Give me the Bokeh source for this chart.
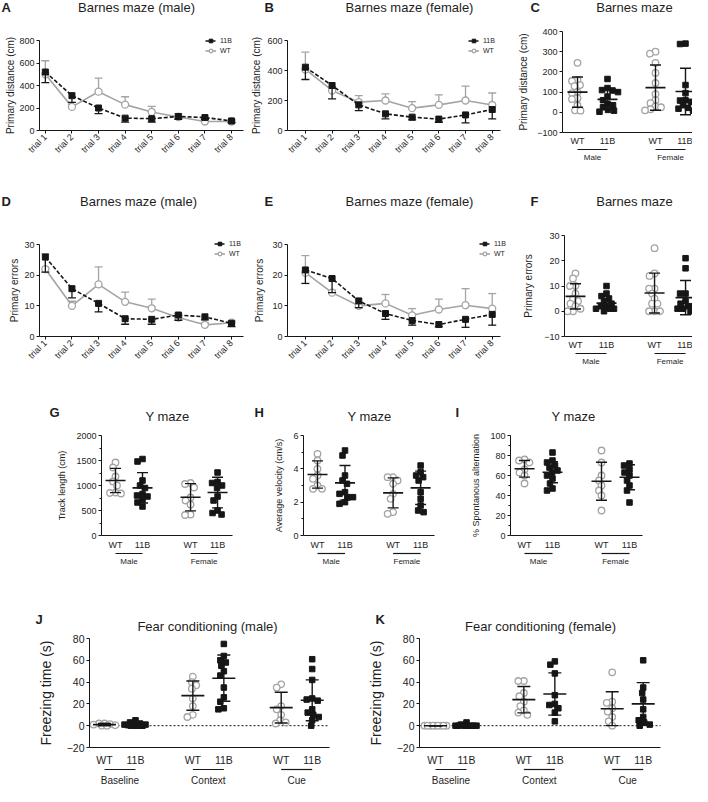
import numpy as np
from bokeh.plotting import figure
from bokeh.models import (Range1d, FixedTicker, Label, Legend, LegendItem,
                          BoxAnnotation, Spacer)
from bokeh.layouts import row, column
from bokeh.embed import file_html
from bokeh.resources import INLINE

FONT = "Liberation Sans"
INK = "#161616"
GRAY = "#a4a4a4"
TXT = "#1e1e1e"

# ---------------------------------------------------------------- data
trials = ["trial 1", "trial 2", "trial 3", "trial 4", "trial 5", "trial 6", "trial 7", "trial 8"]
genotypes = ["WT", "11B"]
sexes = ["Male", "Female"]
phases = ["Baseline", "Context", "Cue"]

# A: Barnes maze (male) primary distance, mean and SEM
a_11b_mean = [520, 310, 200, 110, 105, 125, 115, 85]
a_11b_sem = [95, 60, 50, 35, 30, 25, 15, 15]
a_wt_mean = [500, 210, 345, 230, 165, 120, 80, 80]
a_wt_sem = [120, 20, 120, 70, 50, 30, 15, 15]

# B: Barnes maze (female) primary distance
b_11b_mean = [422, 300, 171, 111, 89, 76, 104, 140]
b_11b_sem = [82, 89, 38, 33, 18, 21, 53, 63]
b_wt_mean = [407, 267, 189, 200, 149, 171, 200, 170]
b_wt_sem = [115, 25, 44, 44, 44, 67, 96, 80]

# C: Barnes maze primary distance per animal
c_wt_male = [245, 160, 155, 135, 130, 100, 95, 70, 65, 35, 10, 8]
c_11b_male = [165, 120, 110, 108, 100, 78, 60, 42, 35, 25, 12, 8, 3]
c_wt_female = [300, 290, 245, 195, 145, 90, 60, 45, 30, 25, 15, 10]
c_11b_female = [340, 338, 135, 95, 60, 58, 52, 35, 22, 18, 8]
c_mean = [100, 64, 122, 103]
c_sd = [75, 48, 112, 115]

# D: Barnes maze (male) primary errors
d_11b_mean = [25.9, 15.6, 10.8, 5.8, 5.6, 7.0, 6.4, 4.3]
d_11b_sem = [4.9, 3.0, 2.8, 1.8, 1.6, 1.7, 1.0, 1.1]
d_wt_mean = [22.0, 10.0, 17.0, 11.3, 9.2, 6.2, 3.8, 4.5]
d_wt_sem = [5.0, 1.5, 5.7, 3.2, 3.0, 1.3, 0.7, 0.5]

# E: Barnes maze (female) primary errors
e_11b_mean = [21.7, 18.9, 11.6, 7.5, 5.2, 3.9, 5.6, 7.2]
e_11b_sem = [4.4, 4.6, 2.2, 1.9, 1.5, 0.7, 2.6, 3.5]
e_wt_mean = [20.8, 14.3, 10.0, 10.8, 6.9, 8.8, 10.2, 9.1]
e_wt_sem = [5.6, 0.8, 0.5, 2.9, 2.2, 3.4, 5.4, 4.9]

# F: Barnes maze primary errors per animal
f_wt_male = [15, 13, 10, 10, 7, 5, 4, 3, 2, 1, 0, 0]
f_11b_male = [10, 7, 6, 5, 4, 3, 2, 2, 1, 1, 1, 0]
f_wt_female = [25, 15, 14, 9, 9, 7, 5, 3, 3, 0, 0, 0]
f_11b_female = [21, 17, 7, 7, 4, 3, 2, 2, 1, 1, 0]
f_mean = [5.9, 3.2, 7.2, 5.4]
f_sd = [5.0, 2.8, 7.9, 6.8]

# G: Y maze track length
g_wt_male = [1460, 1360, 1180, 1080, 1000, 860, 850, 840]
g_11b_male = [1530, 1480, 1100, 1000, 950, 830, 800, 780, 720, 660, 580]
g_wt_female = [1050, 1030, 960, 760, 700, 620, 420, 410]
g_11b_female = [1260, 1070, 1050, 1000, 950, 780, 700, 500, 450, 420]
g_mean = [1100, 953, 765, 859]
g_sd = [242, 304, 272, 306]

# H: Y maze average velocity
h_wt_male = [4.9, 4.5, 4.0, 3.6, 3.4, 3.0, 2.8, 2.8]
h_11b_male = [5.1, 4.8, 3.6, 3.3, 3.1, 2.6, 2.5, 2.3, 2.3, 2.0, 1.9]
h_wt_female = [3.5, 3.5, 3.3, 3.1, 2.5, 2.2, 1.4, 1.3]
h_11b_female = [4.2, 3.8, 3.6, 3.5, 3.3, 2.6, 2.2, 1.8, 1.5, 1.4]
h_mean = [3.66, 3.16, 2.56, 2.86]
h_sd = [0.82, 1.04, 0.90, 1.00]

# I: Y maze spontaneous alternation
i_wt_male = [76, 75, 73, 66, 63, 60, 52]
i_11b_male = [83, 75, 73, 70, 68, 65, 63, 60, 57, 52, 47, 45]
i_wt_female = [85, 73, 60, 55, 50, 45, 40, 25]
i_11b_female = [72, 70, 66, 63, 60, 55, 50, 45, 33]
i_mean = [66.7, 63.3, 54.3, 58.3]
i_sd = [8.3, 10.5, 19.0, 12.5]

# J: Fear conditioning (male) freezing time
j_base_wt = [2, 2, 1.5, 1, 0.5, 0, 0]
j_base_11b = [5, 3, 2, 1, 1, 1, 0.5, 0, 0, 0, 0, 0]
j_ctx_wt = [45, 40, 37, 34, 25, 18, 10, 8]
j_ctx_11b = [75, 64, 60, 58, 55, 50, 46, 35, 26, 22, 16, 15]
j_cue_wt = [38, 35, 18, 15, 10, 5, 3, 2]
j_cue_11b = [61, 52, 42, 25, 24, 23, 15, 12, 10, 8, 5, 0]
j_mean = [1.0, 1.0, 27.6, 43.6, 16.6, 23.3]
j_sd = [1.0, 1.5, 13.4, 21.2, 14.1, 18.7]

# K: Fear conditioning (female) freezing time
k_base_wt = [0, 0, 0, 0, 0, 0, 0, 0, 0]
k_base_11b = [3, 1, 0, 0, 0, 0, 0, 0, 0]
k_ctx_wt = [41, 41, 30, 27, 22, 18, 14, 12, 10]
k_ctx_11b = [59, 56, 48, 28, 20, 19, 16, 12, 4]
k_cue_wt = [49, 22, 21, 16, 13, 8, 4, 0]
k_cue_11b = [60, 35, 30, 24, 15, 8, 5, 3, 1, 0]
k_mean = [0.0, 0.4, 23.9, 29.1, 15.6, 20.0]
k_sd = [0.0, 1.0, 12.1, 19.4, 15.5, 19.5]


# ---------------------------------------------------------------- helpers
def make_fig(box, frame, xr, yr):
    """Figure whose plotting frame fills the whole canvas; the axes sit at
    fixed data locations so that titles and labels around them stay visible."""
    x0, y0, w, h = box
    fl, ft, fr, fb = frame
    ppx = (fr - fl) / (xr[1] - xr[0])
    ppy = (fb - ft) / (yr[1] - yr[0])
    full_x = (xr[0] - (fl - x0) / ppx, xr[1] + (x0 + w - fr) / ppx)
    full_y = (yr[0] - (y0 + h - fb) / ppy, yr[1] + (ft - y0) / ppy)
    p = figure(width=w, height=h, x_range=Range1d(*full_x), y_range=Range1d(*full_y),
               output_backend="svg", toolbar_location=None,
               min_border=0, min_border_left=0, min_border_right=0,
               min_border_top=0, min_border_bottom=0)
    p.outline_line_color = None
    p.grid.visible = False
    p.background_fill_color = "white"
    p.border_fill_color = "white"
    p.xaxis[0].fixed_location = yr[0]
    p.xaxis[0].bounds = tuple(xr)
    p.yaxis[0].fixed_location = xr[0]
    p.yaxis[0].bounds = tuple(yr)
    return p


def style_axis(ax, tick_size, label="", label_size="10px", standoff=3, tick_out=3):
    ax.axis_line_color = INK
    ax.axis_line_width = 1
    ax.major_tick_line_color = INK
    ax.major_tick_out = tick_out
    ax.major_tick_in = 0
    ax.minor_tick_line_color = None
    ax.major_label_text_font = FONT
    ax.major_label_text_font_size = tick_size
    ax.major_label_text_color = TXT
    ax.major_label_standoff = 2
    ax.axis_label = label
    ax.axis_label_text_font = FONT
    ax.axis_label_text_font_size = label_size
    ax.axis_label_text_font_style = "normal"
    ax.axis_label_text_color = TXT
    ax.axis_label_standoff = standoff


def y_axis(p, lo, hi, step, tick_size, label, label_size, standoff, minor=None):
    ax = p.yaxis[0]
    ax.ticker = FixedTicker(ticks=list(range(lo, hi + 1, step)), minor_ticks=minor or [])
    style_axis(ax, tick_size, label, label_size, standoff)
    if minor:
        ax.minor_tick_line_color = INK
        ax.minor_tick_out = 2
        ax.minor_tick_in = 0


def put_text(p, box, px, py, text, size, bold=False, align="center"):
    x0, y0, w, h = box
    p.add_layout(Label(x=px - x0, y=y0 + h - py, x_units="screen", y_units="screen",
                       text=text, text_font=FONT, text_font_size=size,
                       text_font_style="bold" if bold else "normal",
                       text_align=align, text_baseline="middle", text_color=TXT))


def group_marks(p, box, spans, names, y_line, y_text, size):
    x0, y0, w, h = box
    for (a, b), name in zip(spans, names):
        p.add_layout(BoxAnnotation(left=a, right=b,
                                   top=y0 + h - y_line + 0.6, bottom=y0 + h - y_line - 0.6,
                                   top_units="screen", bottom_units="screen",
                                   fill_color=INK, fill_alpha=1, line_color=None))
        p.add_layout(Label(x=(a + b) / 2, y=y0 + h - y_text, x_units="data", y_units="screen",
                           text=name, text_font=FONT, text_font_size=size,
                           text_align="center", text_baseline="middle", text_color=TXT))


def add_legend(p, box, items, left, top):
    x0, y0, w, h = box
    lh = 9
    height = len(items) * lh + (len(items) - 1)
    lg = Legend(items=[LegendItem(label=l, renderers=r) for l, r in items],
                location=(left - x0, y0 + h - (top + height)),
                label_text_font=FONT, label_text_font_size="7px", label_text_color=TXT,
                label_height=lh, glyph_height=lh, glyph_width=11, label_standoff=4,
                spacing=1, padding=0, margin=0, border_line_color=None,
                background_fill_alpha=0)
    p.add_layout(lg)


def line_panel(box, frame, xr, yr, ystep, ylabel, m_b, e_b, m_w, e_w, title, letter,
               title_xy, letter_xy, legend_xy, label_standoff):
    p = make_fig(box, frame, xr, yr)
    xs = list(range(1, len(trials) + 1))
    ax = p.xaxis[0]
    ax.ticker = FixedTicker(ticks=xs)
    ax.major_label_overrides = {x: t for x, t in zip(xs, trials)}
    style_axis(ax, "9px")
    ax.major_label_orientation = np.pi / 4
    y_axis(p, yr[0], yr[1], ystep, "9px", ylabel, "10px", label_standoff)

    up_w = [m + e for m, e in zip(m_w, e_w)]
    lw = p.line(xs, m_w, line_color=GRAY, line_width=1.6)
    p.segment(xs, m_w, xs, up_w, line_color=GRAY, line_width=1.3)
    p.scatter(xs, up_w, marker="dash", size=8, line_color=GRAY, line_width=1.3)
    cw = p.scatter(xs, m_w, marker="circle", size=7, fill_color="white",
                   line_color=GRAY, line_width=1.3)

    lo_b = [m - e for m, e in zip(m_b, e_b)]
    lb = p.line(xs, m_b, line_color=INK, line_width=1.6, line_dash="4 2")
    p.segment(xs, lo_b, xs, m_b, line_color=INK, line_width=1.3)
    p.scatter(xs, lo_b, marker="dash", size=8, line_color=INK, line_width=1.3)
    sb = p.scatter(xs, m_b, marker="square", size=6, fill_color=INK, line_color=INK)

    add_legend(p, box, [("11B", [lb, sb]), ("WT", [lw, cw])], *legend_xy)
    put_text(p, box, *title_xy, title, "13px")
    put_text(p, box, *letter_xy, letter, "13px", bold=True, align="left")
    return p


def swarm_offsets(vals, ppy, ppx, d=5.5, max_px=11):
    cands = sorted(np.arange(-max_px, max_px + 0.01, 0.5), key=lambda c: (abs(c), c))
    placed, offs = [], []
    for v in vals:
        yy = v * ppy
        best, best_d = 0.0, -1.0
        for c in cands:
            md = min([np.hypot(c - px, yy - py) for px, py in placed], default=1e9)
            if md >= d:
                best = c
                break
            if md > best_d:
                best_d, best = md, c
        placed.append((best, yy))
        offs.append(best / ppx)
    return offs


def scatter_panel(box, frame, unit, first_off, gap, n_groups, yr, ystep, ytick_size,
                  ylabel, label_size, standoff, series, means, sds, group_names,
                  title, letter, title_xy, letter_xy, xlab_size, grp_size,
                  y_line, y_text, xlab_standoff, minor=None, mean_w=20, cap_w=11,
                  spread=11, zero_line=False):
    fl, ft, fr, fb = frame
    start = -first_off / unit
    xr = (start, start + (fr - fl) / unit)
    p = make_fig(box, frame, xr, yr)
    ppx = unit
    ppy = (fb - ft) / (yr[1] - yr[0])
    positions, labels, spans = [], [], []
    for gi in range(n_groups):
        base = gi * (len(genotypes) + gap)
        ps = [base + k for k in range(len(genotypes))]
        positions += ps
        labels += genotypes
        spans.append((ps[0], ps[-1]))

    ax = p.xaxis[0]
    ax.ticker = FixedTicker(ticks=positions)
    ax.major_label_overrides = {x: t for x, t in zip(positions, labels)}
    style_axis(ax, xlab_size, tick_out=0)
    ax.major_label_standoff = xlab_standoff
    y_axis(p, yr[0], yr[1], ystep, ytick_size, ylabel, label_size, standoff, minor)

    if zero_line:
        p.segment(x0=[xr[0]], y0=[0], x1=[xr[1]], y1=[0], line_color=INK,
                  line_width=1, line_dash="2 2")

    for x, vals, m, s, g in zip(positions, series, means, sds, labels):
        offs = swarm_offsets(vals, ppy, ppx, max_px=spread)
        xs = [x + o for o in offs]
        if g == "WT":
            p.scatter(xs, vals, marker="circle", size=6.5, fill_color="white",
                      line_color=GRAY, line_width=1.3)
        else:
            p.scatter(xs, vals, marker="square", size=5.5, fill_color=INK, line_color=INK)
        p.segment([x], [m - s], [x], [m + s], line_color=INK, line_width=1.4)
        p.scatter([x, x], [m - s, m + s], marker="dash", size=cap_w, line_color=INK, line_width=1.4)
        p.scatter([x], [m], marker="dash", size=mean_w, line_color=INK, line_width=1.6)

    group_marks(p, box, spans, group_names, y_line, y_text, grp_size)
    put_text(p, box, *title_xy, title, "13px")
    put_text(p, box, *letter_xy, letter, "13px", bold=True, align="left")
    return p


# ---------------------------------------------------------------- panels
boxA = (8, 8, 250, 184)
boxB = (258, 8, 264, 184)
boxC = (522, 8, 178, 184)
boxD = (8, 192, 250, 206)
boxE = (258, 192, 264, 206)
boxF = (522, 192, 178, 206)
boxG = (50, 398, 210, 188)
boxH = (260, 398, 200, 188)
boxI = (460, 398, 200, 188)
boxJ = (8, 586, 342, 208)
boxK = (350, 586, 350, 208)

pA = line_panel(boxA, (47, 48, 251, 138), (0.78, 8.45), (0, 800), 200,
                "Primary distance (cm)", a_11b_mean, a_11b_sem, a_wt_mean, a_wt_sem,
                "Barnes maze (male)", "A", (144, 15), (9, 15), (213, 43.5), 0)
pB = line_panel(boxB, (295, 48, 508, 138), (0.33, 8.31), (0, 600), 200,
                "Primary distance (cm)", b_11b_mean, b_11b_sem, b_wt_mean, b_wt_sem,
                "Barnes maze (female)", "B", (417, 15), (272, 15), (476, 43.5), 2)
pC = scatter_panel(boxC, (570, 39, 700, 140), 30, 15, 0.6, 2, (-100, 400), 100,
                   "9px", "Primary distance (cm)", "10px", 5,
                   [c_wt_male, c_11b_male, c_wt_female, c_11b_female], c_mean, c_sd, sexes,
                   "Barnes maze", "C", (642, 15), (538, 15), "9px", "8px", 157, 165, 3)

pD = line_panel(boxD, (47, 252, 251, 344), (0.78, 8.45), (0, 30), 10,
                "Primary errors", d_11b_mean, d_11b_sem, d_wt_mean, d_wt_sem,
                "Barnes maze (male)", "D", (146, 209), (9, 209), (222, 246.5), 1)
pE = line_panel(boxE, (295, 252, 508, 344), (0.33, 8.31), (0, 30), 10,
                "Primary errors", e_11b_mean, e_11b_sem, e_wt_mean, e_wt_sem,
                "Barnes maze (female)", "E", (417, 209), (272, 209), (487, 246.5), 4)
pF = scatter_panel(boxF, (572, 243, 700, 344), 31, 11, 0.55, 2, (-10, 30), 10,
                   "9px", "Primary errors", "10px", 7,
                   [f_wt_male, f_11b_male, f_wt_female, f_11b_female], f_mean, f_sd, sexes,
                   "Barnes maze", "F", (642, 209), (538, 209), "9px", "8px", 361, 369, 3)

pG = scatter_panel(boxG, (109, 443, 240, 543), 27, 14, 0.78, 2, (0, 2000), 500,
                   "9px", "Track length (cm)", "9px", 6,
                   [g_wt_male, g_11b_male, g_wt_female, g_11b_female], g_mean, g_sd, sexes,
                   "Y maze", "G", (175, 424), (57, 420), "9px", "8px", 561, 569, 4,
                   minor=list(range(250, 2000, 500)), spread=9)
pH = scatter_panel(boxH, (311, 443, 442, 543), 27.5, 14, 0.75, 2, (0, 6), 2,
                   "9px", "Average velocity (cm/s)", "9px", 6,
                   [h_wt_male, h_11b_male, h_wt_female, h_11b_female], h_mean, h_sd, sexes,
                   "Y maze", "H", (377, 424), (262, 420), "9px", "8px", 561, 569, 4,
                   minor=[1, 3, 5], spread=9)
pI = scatter_panel(boxI, (518, 443, 650, 543), 28, 14, 0.75, 2, (0, 100), 20,
                   "9px", "% Spontanous alternation", "9px", 6,
                   [i_wt_male, i_11b_male, i_wt_female, i_11b_female], i_mean, i_sd, sexes,
                   "Y maze", "I", (581, 424), (463, 420), "9px", "8px", 561, 569, 4,
                   minor=[10, 30, 50, 70, 90], spread=9)

pJ = scatter_panel(boxJ, (97, 646, 337, 755), 31, 15, 0.85, 3, (-20, 80), 20,
                   "10.5px", "Freezing time (s)", "14px", 10,
                   [j_base_wt, j_base_11b, j_ctx_wt, j_ctx_11b, j_cue_wt, j_cue_11b],
                   j_mean, j_sd, phases,
                   "Fear conditioning (male)", "J", (215, 634), (43, 627), "10.5px", "10px",
                   777, 788, 6, mean_w=23, cap_w=13, spread=11, zero_line=True)
pK = scatter_panel(boxK, (427, 646, 668, 755), 31, 16, 0.85, 3, (-20, 80), 20,
                   "10.5px", "Freezing time (s)", "14px", 10,
                   [k_base_wt, k_base_11b, k_ctx_wt, k_ctx_11b, k_cue_wt, k_cue_11b],
                   k_mean, k_sd, phases,
                   "Fear conditioning (female)", "K", (548, 634), (383, 627), "10.5px", "10px",
                   777, 788, 6, mean_w=23, cap_w=13, spread=11, zero_line=True)

layout = column(
    row(pA, pB, pC),
    row(pD, pE, pF),
    row(Spacer(width=42, height=188), pG, pH, pI),
    row(pJ, pK),
)

with open("out.html", "w") as fh:
    fh.write(file_html(layout, INLINE, title="Barnes maze, Y maze and fear conditioning"))
